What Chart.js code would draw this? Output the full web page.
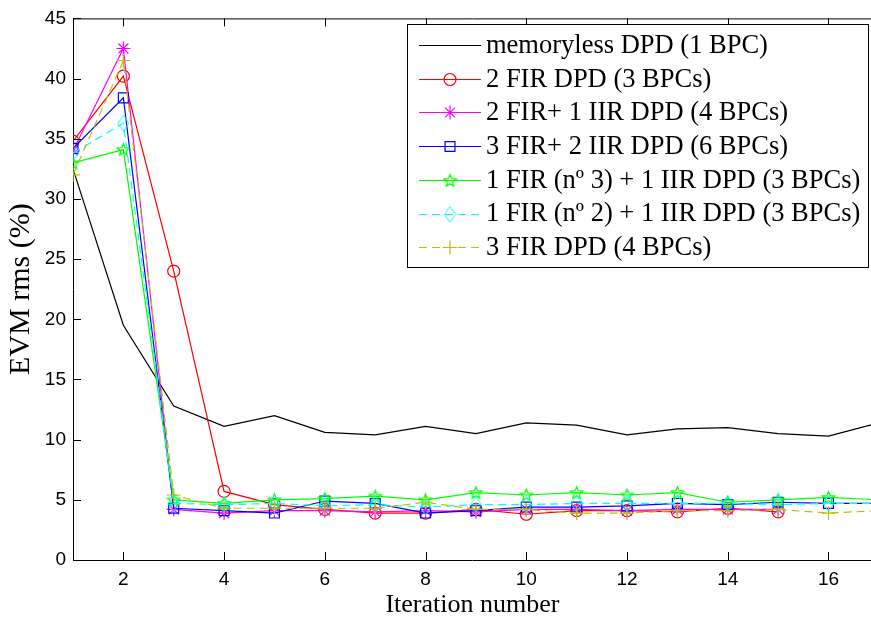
<!DOCTYPE html>
<html>
<head>
<meta charset="utf-8">
<script src="https://cdn.jsdelivr.net/npm/chart.js@4/dist/chart.umd.min.js"></script>
<style>
  html, body { margin: 0; padding: 0; background: #fff; overflow: hidden; }
  /* the original figure is cut at the right edge, so the chart is a bit wider than the window */
  #wrap { width: 881px; height: 623px; }
</style>
</head>
<body>
<div id="wrap"><canvas id="evm"></canvas></div>
<script>
// iteration index on x axis
const iterations = [1, 2, 3, 4, 5, 6, 7, 8, 9, 10, 11, 12, 13, 14, 15, 16, 17];
const x_ticks = [2, 4, 6, 8, 10, 12, 14, 16];
const y_ticks = [0, 5, 10, 15, 20, 25, 30, 35, 40, 45];

// EVM rms (%) per iteration
const memoryless = [32.5, 19.5, 12.8, 11.1, 12.0, 10.6, 10.4, 11.1, 10.5, 11.4, 11.2, 10.4, 10.9, 11.0, 10.5, 10.3, 11.4];
const fir2 = [34.8, 40.2, 24.0, 5.7, 4.6, 4.2, 3.9, 3.9, 4.2, 3.8, 4.1, 4.1, 4.0, 4.3, 4.0];
const fir2_iir1 = [34.0, 42.5, 4.2, 3.9, 4.1, 4.1, 4.0, 4.1, 4.0, 4.2, 4.2, 4.1, 4.2, 4.2, 4.2];
const fir3_iir2 = [34.2, 38.4, 4.3, 4.1, 3.9, 4.9, 4.7, 3.9, 4.1, 4.4, 4.4, 4.5, 4.7, 4.6, 4.8, 4.7, 4.7];
const fir1n3_iir1 = [33.0, 34.1, 5.0, 4.7, 5.0, 5.1, 5.3, 5.0, 5.6, 5.4, 5.6, 5.4, 5.6, 4.8, 5.0, 5.2, 5.0];
const fir1n2_iir1 = [33.8, 36.3, 4.7, 4.6, 4.7, 4.5, 4.6, 4.4, 4.6, 4.6, 4.7, 4.7, 4.7, 4.7, 4.6, 4.7, 4.7];
const fir3 = [32.0, 41.5, 5.4, 4.3, 4.3, 4.3, 4.3, 4.8, 4.2, 4.2, 3.9, 3.9, 4.1, 4.1, 4.2, 3.9, 4.1];

const series_labels = [
    "memoryless DPD (1 BPC)",
    "2 FIR DPD (3 BPCs)",
    "2 FIR+ 1 IIR DPD (4 BPCs)",
    "3 FIR+ 2 IIR DPD (6 BPCs)",
    "1 FIR (n\u00ba 3) + 1 IIR DPD (3 BPCs)",
    "1 FIR (n\u00ba 2) + 1 IIR DPD (3 BPCs)",
    "3 FIR DPD (4 BPCs)"
];
const series_values = [memoryless, fir2, fir2_iir1, fir3_iir2, fir1n3_iir1, fir1n2_iir1, fir3];
const series_colors = ["#000000", "#ff0000", "#ff00ff", "#0000ff", "#00ff00", "#00ffff", "#bfbf00"];

// matlab pentagram, chart.js has no such point style
function make_pentagram(color){
    let c = document.createElement("canvas");
    c.width = 15; c.height = 15;
    let g = c.getContext("2d");
    g.strokeStyle = color;
    g.lineWidth = 1.3;
    g.beginPath();
    for (let i = 0; i < 10; i++){
        let r = (i % 2 == 0) ? 6.3 : 2.8;
        let a = -Math.PI / 2 + i * Math.PI / 5;
        let px = 7.5 + r * Math.cos(a);
        let py = 8 + r * Math.sin(a);
        if (i == 0) g.moveTo(px, py); else g.lineTo(px, py);
    }
    g.closePath();
    g.stroke();
    return c;
}

function make_diamond(color){
    let c = document.createElement("canvas");
    c.width = 13; c.height = 17;
    let g = c.getContext("2d");
    g.strokeStyle = color;
    g.lineWidth = 1;
    g.beginPath();
    g.moveTo(6.5, 0.5); g.lineTo(12, 8.5); g.lineTo(6.5, 16.5); g.lineTo(1, 8.5);
    g.closePath();
    g.stroke();
    return c;
}

const series_points = ["line", "circle", "star", "rect", make_pentagram("#00ff00"), make_diamond("#00ffff"), "cross"];
const series_radius = [0, 6, 7, 7, 7, 8, 7];
const series_dash = [[], [], [], [], [], [8, 5], [8, 5]];

var datasets = [];
for (let i = 0; i < series_values.length; i++){
    let pts = [];
    for (let j = 0; j < series_values[i].length; j++){
        pts.push({x: iterations[j], y: series_values[i][j]});
    }
    datasets.push({
        label: series_labels[i],
        data: pts,
        borderColor: series_colors[i],
        backgroundColor: "rgba(0,0,0,0)",
        borderWidth: 1.2,
        borderDash: series_dash[i],
        pointStyle: series_points[i],
        pointRadius: i == 0 ? 0 : series_radius[i],
        pointBorderColor: series_colors[i],
        pointBackgroundColor: "rgba(0,0,0,0)",
        pointBorderWidth: 1.2,
        tension: 0,
        order: series_values.length - i
    });
}

// matlab style box: inward ticks, top border, legend box
const matlab_box = {
    id: "matlab_box",
    afterDraw(chart){
        let ctx = chart.ctx;
        let area = chart.chartArea;
        let xs = chart.scales.x;
        let ys = chart.scales.y;
        ctx.save();
        ctx.strokeStyle = "#000";
        ctx.lineWidth = 1;
        ctx.beginPath();
        ctx.moveTo(area.left, area.top + 0.5);
        ctx.lineTo(area.right, area.top + 0.5);
        for (let v of x_ticks){
            let px = Math.round(xs.getPixelForValue(v)) + 0.5;
            ctx.moveTo(px, area.bottom); ctx.lineTo(px, area.bottom - 8);
            ctx.moveTo(px, area.top); ctx.lineTo(px, area.top + 8);
        }
        for (let v of y_ticks){
            let py = Math.round(ys.getPixelForValue(v)) + 0.5;
            ctx.moveTo(area.left, py); ctx.lineTo(area.left + 8, py);
        }
        ctx.stroke();

        // Legend
        let lx = 407, ly = 24, lw = 461, lh = 243;
        ctx.fillStyle = "#fff";
        ctx.fillRect(lx, ly, lw, lh);
        ctx.strokeRect(lx + 0.5, ly + 0.5, lw, lh);
        ctx.font = "26.5px 'Liberation Serif'";
        ctx.textBaseline = "middle";
        for (let i = 0; i < series_labels.length; i++){
            let cy = ly + 21 + i * 33.7;
            let ds = datasets[i];
            ctx.strokeStyle = ds.borderColor;
            ctx.lineWidth = 1.2;
            ctx.setLineDash(ds.borderDash);
            ctx.beginPath();
            ctx.moveTo(lx + 12, Math.round(cy) + 0.5);
            ctx.lineTo(lx + 74, Math.round(cy) + 0.5);
            ctx.stroke();
            ctx.setLineDash([]);
            if (i > 0){
                ctx.fillStyle = "rgba(0,0,0,0)";
                Chart.helpers.drawPoint(ctx, {
                    pointStyle: ds.pointStyle,
                    radius: ds.pointRadius,
                    rotation: 0,
                    borderWidth: 1.2
                }, lx + 43, Math.round(cy) + 0.5);
            }
            ctx.fillStyle = "#000";
            ctx.fillText(series_labels[i], lx + 79, cy + 1);
        }
        ctx.restore();
    }
};

const config = {
    type: "line",
    data: { datasets: datasets },
    options: {
        responsive: true,
        maintainAspectRatio: false,
        animation: false,
        layout: { padding: { top: 10, right: 0, left: 0, bottom: 0 } },
        plugins: {
            legend: { display: false },
            tooltip: { enabled: false }
        },
        scales: {
            x: {
                type: "linear",
                min: 1,
                max: 16.86,
                afterBuildTicks: function(scale){ scale.ticks = x_ticks.map(v => ({value: v})); },
                afterFit: function(scale){ scale.height = 63; },
                grid: { display: false, drawTicks: false },
                border: { color: "#000", width: 1 },
                ticks: { color: "#000", padding: 8, font: { family: "Liberation Sans", size: 19 }, maxRotation: 0 },
                title: { display: true, text: "Iteration number", color: "#000",
                         font: { family: "Liberation Serif", size: 26 }, padding: { top: 0, bottom: 2 } }
            },
            y: {
                min: 0,
                max: 45,
                afterBuildTicks: function(scale){ scale.ticks = y_ticks.map(v => ({value: v})); },
                afterFit: function(scale){ scale.width = 73; },
                grid: { display: false, drawTicks: false },
                border: { color: "#000", width: 1 },
                ticks: { color: "#000", padding: 7, font: { family: "Liberation Sans", size: 19 } },
                title: { display: true, text: "EVM rms (%)", color: "#000",
                         font: { family: "Liberation Serif", size: 30 }, padding: { top: 3, bottom: 0 } }
            }
        }
    },
    plugins: [matlab_box]
};

var chart_evm = new Chart(document.getElementById("evm"), config);
</script>
</body>
</html>
